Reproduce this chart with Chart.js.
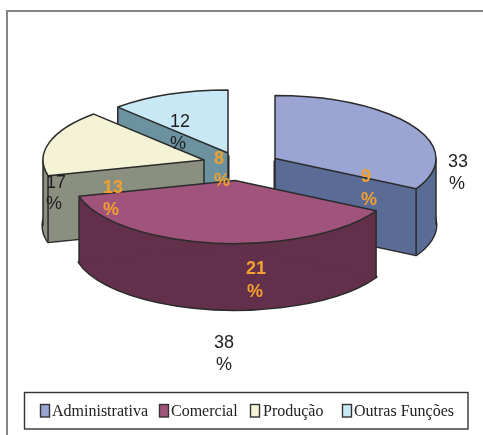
<!DOCTYPE html>
<html>
<head>
<meta charset="utf-8">
<title>Funções</title>
<script src="https://cdn.jsdelivr.net/npm/chart.js@4/dist/chart.umd.min.js"></script>
<style>
    html, body { margin: 0; padding: 0; background: #fff; }
    canvas { display: block; }
</style>
</head>
<body>
<canvas id="pieChart" width="483" height="435"></canvas>
<script>
// chart data
const categories = ['Administrativa', 'Comercial', 'Produção', 'Outras Funções'];
const shares = [33, 38, 17, 12];
const innerShares = [9, 21, 13, 8];

// colours
const topColors = ['#9aa5d3', '#a0547b', '#f5f3d6', '#c9e8f5'];
const wallColors = ['#5a6c96', '#63304b', '#8a8f80', '#6b929e'];
const lineColor = '#2b2b2b';
const innerColor = '#f2a02e';

// layout of the exploded pie, drawn back to front
const drawOrder = [3, 0, 2, 1];
const sliceCenters = [[275, 158.5], [235, 180.5], [204, 160], [228, 153]];
const squash = 63 / 161;
const depth = 66;

// number and % sign of each label
const shareLabelPos = [[458, 162, 457, 184], [224, 343, 224, 365], [56, 183, 54, 204], [180, 122, 178, 144]];
const innerLabelPos = [[366, 177, 369, 200], [256, 269, 255, 292], [113, 188, 111, 210], [219, 159, 222, 181]];

const legendBox = { left: 24.5, top: 392.5, right: 468, bottom: 429 };
const legendSwatchX = [40, 159, 250, 342];
const legendTextX = [52, 171, 263, 354];

const slicePath = function (ctx, arc, cx, cy) {
    const r = arc.outerRadius;
    ctx.beginPath();
    ctx.moveTo(cx, cy);
    ctx.ellipse(cx, cy, r, r * squash, 0, arc.startAngle, arc.endAngle);
    ctx.closePath();
}

const edge = function (ctx, x, y) {
    ctx.beginPath();
    ctx.moveTo(x, y);
    ctx.lineTo(x, y + depth);
    ctx.stroke();
}

const drawSlice = function (ctx, arc, i) {
    const [cx, cy] = sliceCenters[i];
    const r = arc.outerRadius;
    const rimX = a => cx + r * Math.cos(a);
    const rimY = a => cy + r * squash * Math.sin(a);
    const s = arc.startAngle;
    const e = arc.endAngle;

    // left and right extremes of the ellipse that fall inside this slice
    const extremes = [0, Math.PI].filter(a => s < a && a < e);

    ctx.lineWidth = 1.5;
    ctx.lineJoin = 'round';
    ctx.strokeStyle = lineColor;

    // bottom outline first, the wall fill hides its inner half
    ctx.save();
    ctx.lineWidth = 3;
    slicePath(ctx, arc, cx, cy + depth);
    ctx.stroke();
    ctx.restore();

    // wall: bottom face, rim band and the two radial sides
    ctx.fillStyle = wallColors[i];
    slicePath(ctx, arc, cx, cy + depth);
    ctx.fill();
    const breaks = [s, ...extremes, e];
    breaks.slice(1).forEach((b, k) => {
        ctx.beginPath();
        ctx.ellipse(cx, cy, r, r * squash, 0, breaks[k], b);
        ctx.ellipse(cx, cy + depth, r, r * squash, 0, b, breaks[k], true);
        ctx.closePath();
        ctx.fill();
    });
    [s, e].forEach(a => {
        ctx.beginPath();
        ctx.moveTo(cx, cy);
        ctx.lineTo(rimX(a), rimY(a));
        ctx.lineTo(rimX(a), rimY(a) + depth);
        ctx.lineTo(cx, cy + depth);
        ctx.closePath();
        ctx.fill();
    });

    // vertical corners, skipped where the slice itself sits in front of them
    const corners = [[rimX(s), rimY(s)], [rimX(e), rimY(e)], [cx, cy]];
    extremes.forEach(a => corners.push([rimX(a), rimY(a)]));
    slicePath(ctx, arc, cx, cy);
    const hidden = corners.map(c => ctx.isPointInPath(c[0], c[1] + 6));
    corners.forEach((c, k) => {
        if (!hidden[k]) edge(ctx, c[0], c[1]);
    });

    ctx.fillStyle = topColors[i];
    slicePath(ctx, arc, cx, cy);
    ctx.fill();
    ctx.stroke();
}

const drawLabel = function (ctx, value, pos) {
    ctx.textAlign = 'center';
    ctx.textBaseline = 'middle';
    ctx.fillText(String(value), pos[0], pos[1]);
    ctx.fillText('%', pos[2], pos[3]);
}

const pie3d = {
    id: 'pie3d',
    beforeDatasetsDraw(chart) {
        const ctx = chart.ctx;
        const arcs = chart.getDatasetMeta(0).data;

        // page frame, open on the right
        ctx.save();
        ctx.strokeStyle = '#858585';
        ctx.lineWidth = 2;
        ctx.beginPath();
        ctx.moveTo(7, 435);
        ctx.lineTo(7, 11);
        ctx.lineTo(483, 11);
        ctx.stroke();
        ctx.restore();

        ctx.save();
        drawOrder.forEach(i => drawSlice(ctx, arcs[i], i));
        ctx.restore();

        ctx.save();
        ctx.font = '18px "Liberation Sans"';
        ctx.fillStyle = '#1f1f1f';
        shares.forEach((v, i) => drawLabel(ctx, v, shareLabelPos[i]));
        ctx.font = 'bold 18px "Liberation Sans"';
        ctx.fillStyle = innerColor;
        innerShares.forEach((v, i) => drawLabel(ctx, v, innerLabelPos[i]));
        ctx.restore();

        // legend
        ctx.save();
        ctx.strokeStyle = '#333';
        ctx.lineWidth = 1.4;
        ctx.strokeRect(legendBox.left, legendBox.top, legendBox.right - legendBox.left, legendBox.bottom - legendBox.top);
        ctx.font = '16px "Liberation Serif"';
        ctx.textBaseline = 'middle';
        categories.forEach((name, i) => {
            ctx.fillStyle = topColors[i];
            ctx.fillRect(legendSwatchX[i] + 0.5, 404.5, 9, 12.5);
            ctx.strokeRect(legendSwatchX[i] + 0.5, 404.5, 9, 12.5);
            ctx.fillStyle = '#222';
            ctx.fillText(name, legendTextX[i], 411.5);
        });
        ctx.restore();

        return false;
    }
}

new Chart(document.getElementById('pieChart'), {
    type: 'pie',
    data: {
        labels: categories,
        datasets: [{
            data: shares,
            backgroundColor: topColors,
            radius: 161
        }]
    },
    options: {
        responsive: false,
        animation: false,
        plugins: {
            legend: { display: false },
            tooltip: { enabled: false }
        }
    },
    plugins: [pie3d]
});
</script>
</body>
</html>
